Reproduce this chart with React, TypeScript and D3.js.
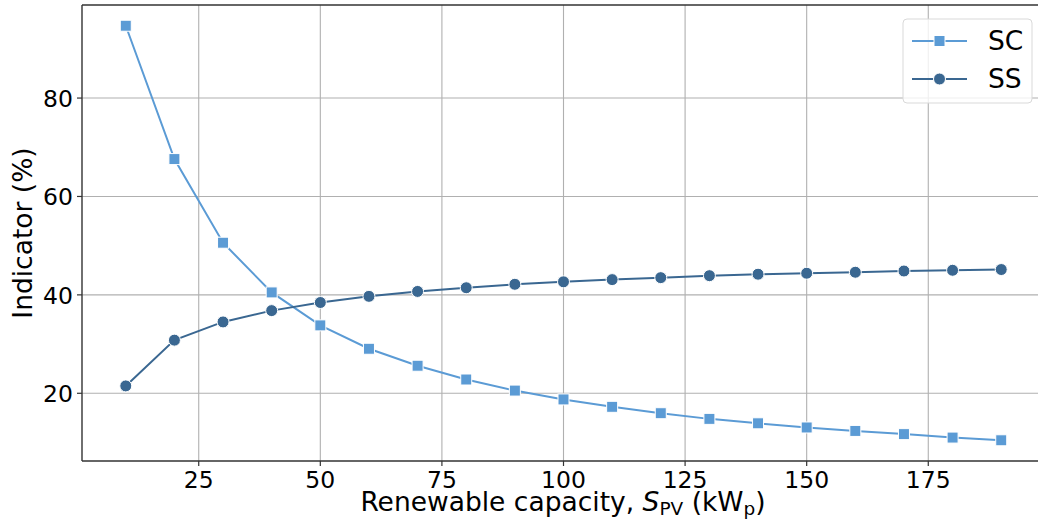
import React from "react";
import * as d3 from "d3";

const capacities = [10, 20, 30, 40, 50, 60, 70, 80, 90, 100, 110, 120, 130, 140, 150, 160, 170, 180, 190];
const scValues = [94.7, 67.6, 50.6, 40.5, 33.8, 29.05, 25.6, 22.8, 20.55, 18.75, 17.25, 15.95, 14.8, 13.9, 13.05, 12.35, 11.7, 11.0, 10.45];
const ssValues = [21.5, 30.8, 34.5, 36.8, 38.45, 39.7, 40.7, 41.45, 42.15, 42.65, 43.1, 43.5, 43.9, 44.2, 44.4, 44.6, 44.85, 45.0, 45.15];
const xTicks = [25, 50, 75, 100, 125, 150, 175];
const yTicks = [20, 40, 60, 80];
const seriesNames = ["SC", "SS"];

const W = 1038;
const H = 529;
const FONT = "DejaVu Sans";
const SC_COLOR = "#5b9bd5";
const SS_COLOR = "#3a6791";

export default function App() {
  const left = 82, top = 5, right = 1045, bottom = 461;
  const xMin = d3.min(capacities)!, xMax = d3.max(capacities)!;
  const xPad = (xMax - xMin) * 0.05;
  const allY = [...scValues, ...ssValues];
  const yMin = d3.min(allY)!, yMax = d3.max(allY)!;
  const yPad = (yMax - yMin) * 0.05;
  const x = d3.scaleLinear().domain([xMin - xPad, xMax + xPad]).range([left, right]);
  const y = d3.scaleLinear().domain([yMin - yPad, yMax + yPad]).range([bottom, top]);

  const line = d3.line<number>().x((_, i) => x(capacities[i])).y((d) => y(d));
  const sq = 11;
  const r = 6;
  const tickFont = 23.5;
  const labelFont = 26.5;

  return (
    <div style={{ position: "fixed", left: 0, top: 0, width: W, height: H, background: "#fff" }}>
      <svg width={W} height={H} style={{ display: "block" }} fontFamily={FONT}>
        <rect x={0} y={0} width={W} height={H} fill="#fff" />
        {/* grid */}
        {xTicks.map((t) => (
          <line key={"gx" + t} x1={x(t)} x2={x(t)} y1={top} y2={bottom} stroke="#b0b0b0" strokeWidth={1.1} />
        ))}
        {yTicks.map((t) => (
          <line key={"gy" + t} x1={left} x2={right} y1={y(t)} y2={y(t)} stroke="#b0b0b0" strokeWidth={1.1} />
        ))}
        {/* spines */}
        <line x1={left} x2={left} y1={top} y2={bottom} stroke="#333" strokeWidth={1.4} />
        <line x1={left} x2={right} y1={bottom} y2={bottom} stroke="#333" strokeWidth={1.4} />
        <line x1={left} x2={right} y1={top} y2={top} stroke="#333" strokeWidth={1.4} />
        <line x1={right} x2={right} y1={top} y2={bottom} stroke="#333" strokeWidth={1.4} />
        {/* ticks */}
        {xTicks.map((t) => (
          <g key={"tx" + t}>
            <line x1={x(t)} x2={x(t)} y1={bottom} y2={bottom + 5} stroke="#333" strokeWidth={1.2} />
            <text x={x(t)} y={488} textAnchor="middle" fontSize={tickFont} fill="#000">{t}</text>
          </g>
        ))}
        {yTicks.map((t) => (
          <g key={"ty" + t}>
            <line x1={left - 5} x2={left} y1={y(t)} y2={y(t)} stroke="#333" strokeWidth={1.2} />
            <text x={left - 9} y={y(t) + 9} textAnchor="end" fontSize={tickFont} fill="#000">{t}</text>
          </g>
        ))}
        {/* axis labels */}
        <text x={563} y={511} textAnchor="middle" fontSize={labelFont} fill="#000">
          Renewable capacity, <tspan fontStyle="italic">S</tspan>
          <tspan fontSize={18.5} dy={4}>PV</tspan>
          <tspan dy={-4}> (kW</tspan>
          <tspan fontSize={18.5} dy={4}>p</tspan>
          <tspan dy={-4}>)</tspan>
        </text>
        <text transform={`translate(32,${(top + bottom) / 2}) rotate(-90)`} textAnchor="middle" fontSize={labelFont} fill="#000">
          Indicator (%)
        </text>
        {/* SC */}
        <path d={line(scValues)!} fill="none" stroke={SC_COLOR} strokeWidth={2} />
        {scValues.map((v, i) => (
          <rect key={"sc" + i} x={x(capacities[i]) - sq / 2} y={y(v) - sq / 2} width={sq} height={sq} fill={SC_COLOR} stroke="#fff" strokeWidth={1} />
        ))}
        {/* SS */}
        <path d={line(ssValues)!} fill="none" stroke={SS_COLOR} strokeWidth={2} />
        {ssValues.map((v, i) => (
          <circle key={"ss" + i} cx={x(capacities[i])} cy={y(v)} r={r} fill={SS_COLOR} stroke="#fff" strokeWidth={1} />
        ))}
        {/* legend */}
        <rect x={903} y={19} width={129} height={84} rx={4} fill="#fff" fillOpacity={0.8} stroke="#d9d9d9" strokeWidth={1} />
        <g>
          <line x1={912} x2={967} y1={41} y2={41} stroke={SC_COLOR} strokeWidth={2} />
          <rect x={939.5 - sq / 2} y={41 - sq / 2} width={sq} height={sq} fill={SC_COLOR} stroke="#fff" strokeWidth={1} />
          <text x={988} y={50} fontSize={labelFont} fill="#000">{seriesNames[0]}</text>
        </g>
        <g>
          <line x1={912} x2={967} y1={79} y2={79} stroke={SS_COLOR} strokeWidth={2} />
          <circle cx={939.5} cy={79} r={r} fill={SS_COLOR} stroke="#fff" strokeWidth={1} />
          <text x={988} y={88} fontSize={labelFont} fill="#000">{seriesNames[1]}</text>
        </g>
      </svg>
    </div>
  );
}
